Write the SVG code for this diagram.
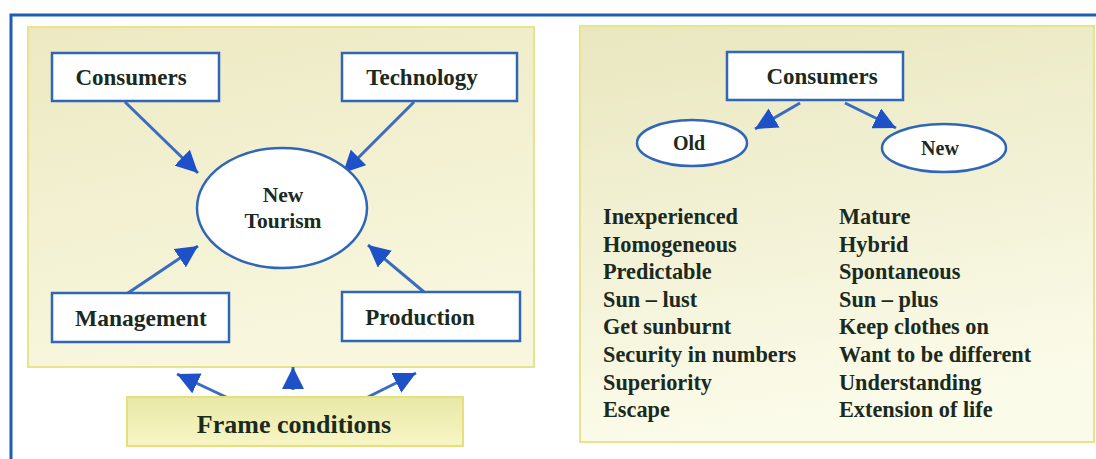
<svg xmlns="http://www.w3.org/2000/svg" width="1096" height="459" viewBox="0 0 1096 459">
  <style>
    .panel { stroke: #e6e48c; stroke-width: 2; }
    .box { fill: #ffffff; stroke: #2f66b8; stroke-width: 2.5; }
    .lbl { font-family: "Liberation Serif", "Times New Roman", serif; font-weight: bold; fill: #1b2a1e; text-anchor: middle; }
    .item { font-family: "Liberation Serif", "Times New Roman", serif; font-weight: bold; fill: #1b2a1e; font-size: 22.3px; }
    .conn { stroke: #3a6cc0; stroke-width: 3; fill: none; marker-end: url(#ah); }
  </style>
  <defs>
    <marker id="ah" markerUnits="userSpaceOnUse" markerWidth="24" markerHeight="22" refX="22" refY="11" orient="auto">
      <path d="M0,0 L22,11 L0,22 z" fill="#1e50c8"/>
    </marker>
    <linearGradient id="gl" x1="0" y1="0" x2="0.3" y2="1">
      <stop offset="0" stop-color="#ece9c2"/>
      <stop offset="1" stop-color="#f8f7de"/>
    </linearGradient>
    <linearGradient id="gr" x1="0" y1="0" x2="0.2" y2="1">
      <stop offset="0" stop-color="#e9e7bf"/>
      <stop offset="1" stop-color="#fbfbea"/>
    </linearGradient>
    <linearGradient id="gf" x1="0" y1="0" x2="0" y2="1">
      <stop offset="0" stop-color="#e9e8a8"/>
      <stop offset="1" stop-color="#f7f5c4"/>
    </linearGradient>
  </defs>

  <rect width="1096" height="459" fill="#ffffff"/>

  <!-- outer frame -->
  <g id="frame">
    <path d="M11,459 V15 H1096" fill="none" stroke="#1f5cb4" stroke-width="3"/>
  </g>

  <!-- panels -->
  <g id="left-panel">
    <rect x="28" y="27" width="506" height="340" fill="url(#gl)" class="panel"/>
  </g>
  <g id="right-panel">
    <rect x="580" y="26" width="514" height="416" fill="url(#gr)" class="panel"/>
  </g>

  <!-- connectors -->
  <g id="connectors">
    <line class="conn" x1="125" y1="102" x2="198" y2="173"/>
    <line class="conn" x1="414" y1="102" x2="343" y2="173"/>
    <line class="conn" x1="128" y1="293" x2="198" y2="246"/>
    <line class="conn" x1="424" y1="292" x2="368" y2="245"/>
    <line class="conn" x1="226" y1="397" x2="177" y2="374"/>
    <line class="conn" x1="293" y1="390" x2="293" y2="367"/>
    <line class="conn" x1="368" y1="397" x2="416" y2="373"/>
    <line class="conn" x1="800" y1="103" x2="755" y2="129"/>
    <line class="conn" x1="845" y1="103" x2="896" y2="128"/>
  </g>

  <!-- left diagram nodes -->
  <g id="consumers">
    <rect class="box" x="52" y="53" width="167" height="48"/>
    <text class="lbl" x="131" y="85" font-size="23">Consumers</text>
  </g>
  <g id="technology">
    <rect class="box" x="342" y="53" width="175" height="48"/>
    <text class="lbl" x="422" y="85" font-size="23">Technology</text>
  </g>
  <g id="new-tourism">
    <ellipse cx="282" cy="208" rx="85" ry="60" fill="#ffffff" stroke="#2f66b8" stroke-width="2.5"/>
    <text class="lbl" x="283" y="202" font-size="21.5">New</text>
    <text class="lbl" x="283" y="228" font-size="21.5">Tourism</text>
  </g>
  <g id="management">
    <rect class="box" x="52" y="293" width="177" height="49"/>
    <text class="lbl" x="141" y="326" font-size="23.5">Management</text>
  </g>
  <g id="production">
    <rect class="box" x="342" y="292" width="178" height="49"/>
    <text class="lbl" x="420" y="325" font-size="23">Production</text>
  </g>
  <g id="frame-conditions">
    <rect x="127" y="397" width="336" height="49" fill="url(#gf)" stroke="#e4e07a" stroke-width="2"/>
    <text class="lbl" x="294" y="433" font-size="26">Frame conditions</text>
  </g>

  <!-- right diagram nodes -->
  <g id="consumers-2">
    <rect class="box" x="727" y="52" width="176" height="48"/>
    <text class="lbl" x="822" y="84" font-size="23">Consumers</text>
  </g>
  <g id="old">
    <ellipse cx="692" cy="143" rx="55" ry="23" fill="#ffffff" stroke="#2f66b8" stroke-width="2.5"/>
    <text class="lbl" x="689" y="150" font-size="20">Old</text>
  </g>
  <g id="new">
    <ellipse cx="944" cy="148" rx="62" ry="24" fill="#ffffff" stroke="#2f66b8" stroke-width="2.5"/>
    <text class="lbl" x="940" y="155" font-size="20">New</text>
  </g>

  <g id="old-list">
    <text class="item" x="603" y="224">Inexperienced</text>
    <text class="item" x="603" y="252">Homogeneous</text>
    <text class="item" x="603" y="279">Predictable</text>
    <text class="item" x="603" y="307">Sun – lust</text>
    <text class="item" x="603" y="334">Get sunburnt</text>
    <text class="item" x="603" y="362">Security in numbers</text>
    <text class="item" x="603" y="390">Superiority</text>
    <text class="item" x="603" y="417">Escape</text>
  </g>
  <g id="new-list">
    <text class="item" x="839" y="224">Mature</text>
    <text class="item" x="839" y="252">Hybrid</text>
    <text class="item" x="839" y="279">Spontaneous</text>
    <text class="item" x="839" y="307">Sun – plus</text>
    <text class="item" x="839" y="334">Keep clothes on</text>
    <text class="item" x="839" y="362">Want to be different</text>
    <text class="item" x="839" y="390">Understanding</text>
    <text class="item" x="839" y="417">Extension of life</text>
  </g>
</svg>
